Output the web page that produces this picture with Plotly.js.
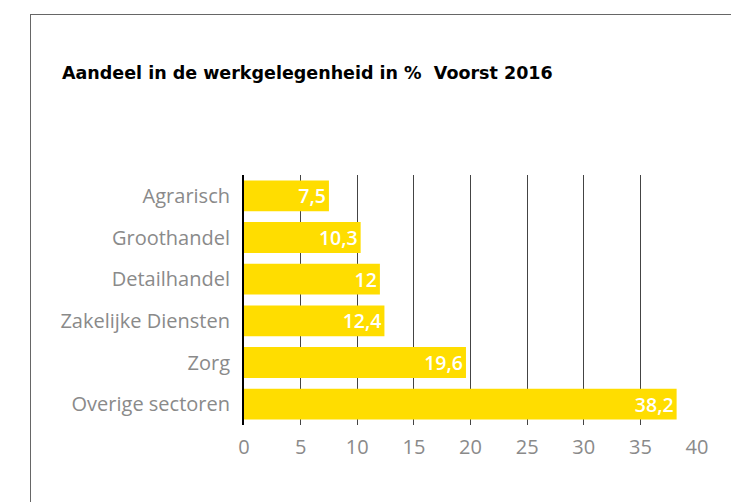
<!DOCTYPE html>
<html><head><meta charset="utf-8">
<script src="https://cdn.plot.ly/plotly-3.0.1.min.js"></script>
<style>
html,body{margin:0;padding:0;background:#fff;}
#frame{position:absolute;left:30px;top:14px;width:701px;height:488px;border-top:1px solid #666;border-left:1px solid #666;pointer-events:none;z-index:5;}
#chart{width:731px;height:502px;}
</style></head>
<body>
<div id="frame"></div>
<div id="chart"></div>
<script>
const categories = ["Agrarisch","Groothandel","Detailhandel","Zakelijke Diensten","Zorg","Overige sectoren"];
const values = [7.5, 10.3, 12, 12.4, 19.6, 38.2];
const valueLabels = ["7,5","10,3","12","12,4","19,6","38,2"];
const xTicks = [0,5,10,15,20,25,30,35,40];

const trace = {
  type: 'bar',
  orientation: 'h',
  y: categories,
  x: values,
  text: valueLabels,
  textposition: 'inside',
  insidetextanchor: 'end',
  textangle: 0,
  constraintext: 'none',
  textfont: {family: 'Open Sans', size: 19.5, color: '#ffffff', weight: 600},
  marker: {color: '#FFDD00'},
  hoverinfo: 'none',
  cliponaxis: false
};

const layout = {
  width: 731, height: 502,
  margin: {l: 244, r: 34, t: 175, b: 77},
  paper_bgcolor: '#fff', plot_bgcolor: '#fff',
  bargap: 0.26,
  showlegend: false,
  title: {
    text: 'Aandeel in de werkgelegenheid in %  Voorst 2016',
    font: {family: 'DejaVu Sans', size: 17.5, color: '#000', weight: 700},
    xref: 'container', yref: 'container',
    x: 62/731, xanchor: 'left',
    y: 1 - 73/502, yanchor: 'middle'
  },
  xaxis: {
    range: [0, 40],
    tickvals: xTicks,
    showgrid: true, gridcolor: '#444', gridwidth: 1,
    zeroline: false, showline: false,
    ticks: '',
    tickfont: {family: 'Open Sans', size: 20, color: '#8a8a8a'},
    ticklabelstandoff: 8,
    fixedrange: true
  },
  yaxis: {
    autorange: 'reversed',
    showgrid: false, zeroline: false,
    showline: true, linecolor: '#000', linewidth: 2,
    ticks: '',
    ticklabelstandoff: 8,
    tickfont: {family: 'Open Sans', size: 20, color: '#8a8a8a'},
    fixedrange: true
  }
};

Plotly.newPlot('chart', [trace], layout, {displayModeBar: false, staticPlot: true});
</script>
</body></html>
